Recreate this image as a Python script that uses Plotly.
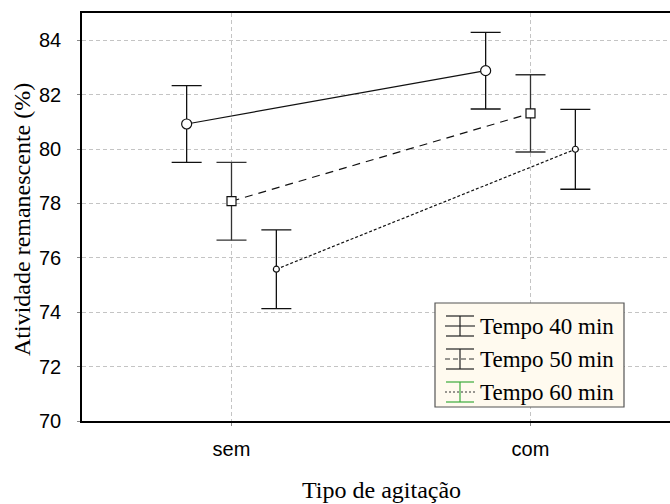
import plotly.graph_objects as go

# Categories and mean activity (%) with error half-widths per agitation type
categories = ["sem", "com"]
series_names = ["Tempo 40 min", "Tempo 50 min", "Tempo 60 min"]
mean_40 = [80.92, 82.88]
err_40 = [1.41, 1.41]
mean_50 = [78.08, 81.31]
err_50 = [1.43, 1.42]
mean_60 = [75.58, 79.99]
err_60 = [1.45, 1.47]
y_ticks = [70, 72, 74, 76, 78, 80, 82, 84]

W, H = 670, 504
ML, MR, MT, MB = 82, 0, 13, 83
PW, PH = W - ML - MR, H - MT - MB

SERIF = "Liberation Serif, Times New Roman, serif"
SANS = "Liberation Sans, Arial, sans-serif"

styles = [
    dict(mean=mean_40, err=err_40, dx=-0.15, dash="solid", symbol="circle", size=10, ecol="#111111"),
    dict(mean=mean_50, err=err_50, dx=0.0, dash="8px,6px", symbol="square", size=9, ecol="#333333"),
    dict(mean=mean_60, err=err_60, dx=0.15, dash="3px,2px", symbol="circle", size=6, ecol="#111111"),
]

fig = go.Figure()
for name, st in zip(series_names, styles):
    xs = [i + st["dx"] for i in range(len(categories))]
    # connecting line with error bars
    fig.add_trace(go.Scatter(
        x=xs, y=st["mean"], name=name, mode="lines", showlegend=False,
        line=dict(color="#111111", width=1.2, dash=st["dash"]),
        error_y=dict(type="data", array=st["err"], visible=True,
                     color=st["ecol"], thickness=1.3, width=15),
    ))
    # white-filled markers on top
    fig.add_trace(go.Scatter(
        x=xs, y=st["mean"], name=name, mode="markers", showlegend=False,
        marker=dict(symbol=st["symbol"], size=st["size"], color="white",
                    line=dict(width=1.2, color="#111111")),
    ))


def px_x(p):
    return (p - ML) / PW


def px_y(p):
    return (H - MB - p) / PH


shapes = []
annotations = []

# legend box
shapes.append(dict(type="rect", xref="paper", yref="paper",
                   x0=px_x(435), x1=px_x(624), y0=px_y(407), y1=px_y(303),
                   fillcolor="#FFFAEF", line=dict(color="#555555", width=1.2)))
row_y = [326, 359, 392]
leg_dash = ["solid", "5px,3px", "2px,2px"]
leg_err = ["#222222", "#222222", "#3BAA3B"]
for ry, name, dsh, ecol in zip(row_y, series_names, leg_dash, leg_err):
    cx = 460
    shapes.append(dict(type="line", xref="paper", yref="paper",
                       x0=px_x(445), x1=px_x(475), y0=px_y(ry), y1=px_y(ry),
                       line=dict(color="#333333", width=1.2, dash=dsh)))
    shapes.append(dict(type="line", xref="paper", yref="paper",
                       x0=px_x(cx), x1=px_x(cx), y0=px_y(ry - 10), y1=px_y(ry + 10),
                       line=dict(color=ecol, width=1.2)))
    for cy in (ry - 10, ry + 10):
        shapes.append(dict(type="line", xref="paper", yref="paper",
                           x0=px_x(cx - 14), x1=px_x(cx + 14), y0=px_y(cy), y1=px_y(cy),
                           line=dict(color=ecol, width=1.2)))
    annotations.append(dict(text=name, xref="paper", yref="paper",
                            x=px_x(478), y=px_y(ry), xanchor="left", yanchor="middle",
                            showarrow=False, font=dict(family=SERIF, size=23, color="black")))

# axis titles
annotations.append(dict(text="Tipo de agitação", xref="paper", yref="paper",
                        x=px_x(381), y=px_y(490), xanchor="center", yanchor="middle",
                        showarrow=False, font=dict(family=SERIF, size=24, color="black")))
annotations.append(dict(text="Atividade remanescente (%)", xref="paper", yref="paper",
                        x=px_x(22), y=px_y(220), xanchor="center", yanchor="middle",
                        textangle=-90, showarrow=False,
                        font=dict(family=SERIF, size=24, color="black")))

fig.update_layout(
    width=W, height=H,
    margin=dict(l=ML, r=MR, t=MT, b=MB, pad=0),
    paper_bgcolor="white", plot_bgcolor="white",
    showlegend=False,
    shapes=shapes, annotations=annotations,
    xaxis=dict(
        range=[-0.5, 1.5 - 10 / 299], tickmode="array", tickvals=[0, 1], ticktext=categories,
        showgrid=True, gridcolor="#c4c4c4", griddash="4px,3px", gridwidth=1,
        showline=True, linecolor="black", linewidth=1.5, mirror=True,
        ticks="outside", ticklen=3, tickcolor="#888888",
        tickfont=dict(family=SANS, size=20, color="black"), ticklabelstandoff=6,
        zeroline=False,
    ),
    yaxis=dict(
        range=[70, 85], tickmode="array", tickvals=y_ticks,
        showgrid=True, gridcolor="#c4c4c4", griddash="4px,3px", gridwidth=1,
        showline=True, linecolor="black", linewidth=1.5,
        ticks="outside", ticklen=3, tickcolor="#888888",
        tickfont=dict(family=SANS, size=20, color="black"), ticklabelstandoff=12,
        zeroline=False,
    ),
)

fig.write_html("out.html")
